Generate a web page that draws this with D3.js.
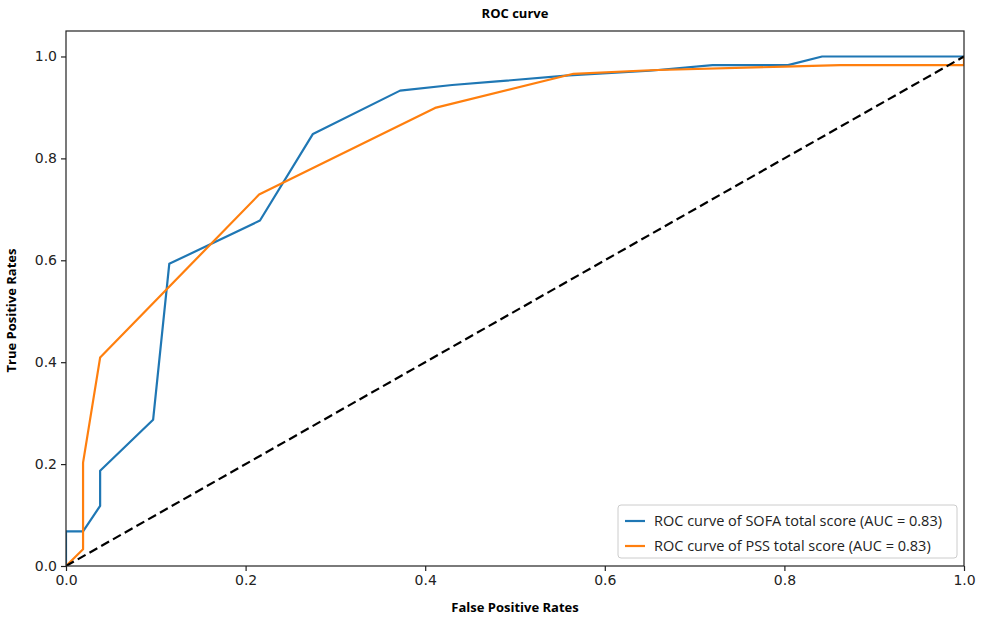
<!DOCTYPE html>
<html><head><meta charset="utf-8">
<script src="https://cdn.jsdelivr.net/npm/d3@7"></script>
<style>body{margin:0;background:#fff;} svg{display:block;}</style>
</head><body>
<svg id="c" width="981" height="620"></svg>
<script>
const sofaFPR = [0,0,0.019,0.038,0.038,0.097,0.115,0.216,0.275,0.372,0.43,0.48,0.56,0.65,0.72,0.804,0.842,1.0];
const sofaTPR = [0,0.068,0.068,0.118,0.187,0.287,0.593,0.678,0.848,0.933,0.944,0.951,0.963,0.972,0.983,0.983,1.0,1.0];
const pssFPR = [0,0.019,0.019,0.038,0.215,0.411,0.565,0.65,0.80,0.862,1.0,1.0];
const pssTPR = [0,0.033,0.203,0.409,0.729,0.899,0.966,0.973,0.980,0.983,0.983,1.0];
const diagFPR = [0,1];
const diagTPR = [0,1];
const ticks = [0,0.2,0.4,0.6,0.8,1.0];
const seriesNames = ["ROC curve of SOFA total score (AUC = 0.83)","ROC curve of PSS total score (AUC = 0.83)"];
const colors = ["#1f77b4","#ff7f0e"];

const svg = d3.select("#c");
const L=66,R=964,T=31,B=566;
const x = d3.scaleLinear().domain([0,1]).range([L,R]);
const y = d3.scaleLinear().domain([0,1.05]).range([B,T]);

const line = d3.line().x(d=>x(d[0])).y(d=>y(d[1]));
svg.append("clipPath").attr("id","cp").append("rect").attr("x",L).attr("y",T).attr("width",R-L).attr("height",B-T);
const g = svg.append("g").attr("clip-path","url(#cp)");

g.append("path").datum(d3.zip(sofaFPR,sofaTPR)).attr("d",line).attr("fill","none").attr("stroke",colors[0]).attr("stroke-width",2.2).attr("stroke-linejoin","round");
g.append("path").datum(d3.zip(pssFPR,pssTPR)).attr("d",line).attr("fill","none").attr("stroke",colors[1]).attr("stroke-width",2.2).attr("stroke-linejoin","round");
g.append("path").datum(d3.zip(diagFPR,diagTPR)).attr("d",line).attr("fill","none").attr("stroke","#000").attr("stroke-width",2.2).attr("stroke-dasharray","9,4.5");

svg.append("rect").attr("x",L).attr("y",T).attr("width",R-L).attr("height",B-T).attr("fill","none").attr("stroke","#222").attr("stroke-width",1.2);

const fmt = d3.format(".1f");
const xa = svg.append("g").attr("transform",`translate(0,${B})`).call(d3.axisBottom(x).tickValues(ticks).tickFormat(fmt).tickSize(5).tickPadding(4));
const ya = svg.append("g").attr("transform",`translate(${L},0)`).call(d3.axisLeft(y).tickValues(ticks).tickFormat(fmt).tickSize(5).tickPadding(4));
[xa,ya].forEach(a=>{a.select(".domain").remove();a.selectAll("line").attr("stroke","#222").attr("stroke-width",1.2);a.selectAll("text").attr("font-family","DejaVu Sans").attr("font-size",14).attr("fill","#222");});

svg.append("text").attr("x",(L+R)/2).attr("y",18).attr("text-anchor","middle").attr("font-family","Open Sans").attr("font-weight","bold").attr("font-size",13).text("ROC curve");
svg.append("text").attr("x",(L+R)/2).attr("y",612).attr("text-anchor","middle").attr("font-family","Open Sans").attr("font-weight","bold").attr("font-size",13).text("False Positive Rates");
svg.append("text").attr("transform",`translate(16,${(T+B)/2+12}) rotate(-90)`).attr("text-anchor","middle").attr("font-family","Open Sans").attr("font-weight","bold").attr("font-size",13).text("True Positive Rates");

const lg = svg.append("g");
lg.append("rect").attr("x",618).attr("y",505).attr("width",339).attr("height",53).attr("rx",3).attr("fill","#fff").attr("stroke","#ccc").attr("stroke-width",1);
seriesNames.forEach((n,i)=>{
  const yy = 521+i*25;
  lg.append("line").attr("x1",625).attr("x2",645).attr("y1",yy).attr("y2",yy).attr("stroke",colors[i]).attr("stroke-width",2.2);
  lg.append("text").attr("x",654).attr("y",yy+5).attr("font-family","Open Sans").attr("font-size",14.5).attr("fill","#222").text(n);
});
</script>
</body></html>
